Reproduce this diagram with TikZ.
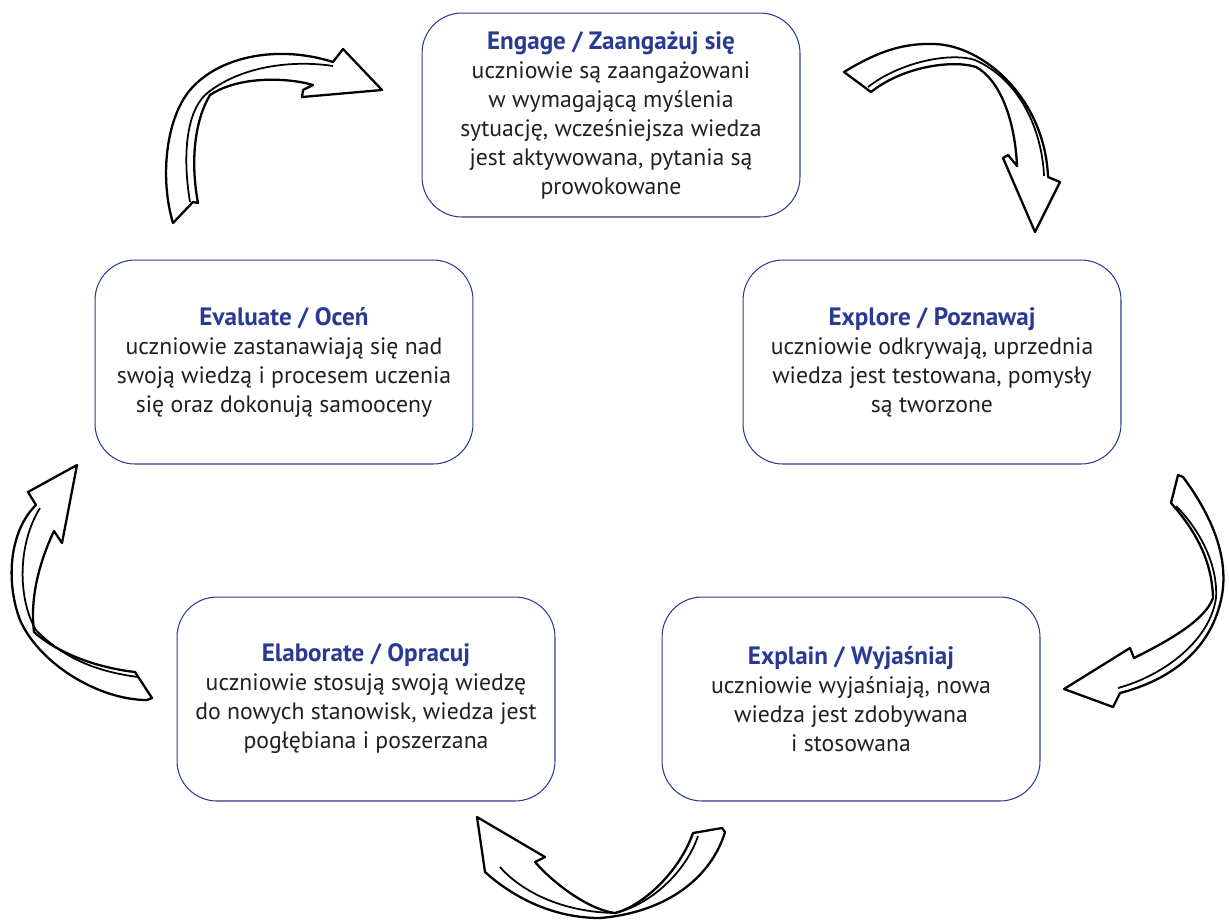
\documentclass[tikz,border=0pt]{standalone}
\usepackage{fontspec}
\setmainfont{PT Sans}
\definecolor{titleblue}{RGB}{40,58,145}
\definecolor{boxblue}{RGB}{45,60,145}
\definecolor{bodytext}{RGB}{35,31,32}
\begin{document}
\begin{tikzpicture}[x=0.02cm, y=-0.02cm,
    phase/.style={draw=boxblue, line width=0.6pt, rounded corners=0.8cm,
      minimum width=7.56cm, minimum height=4.08cm, align=center,
      text=bodytext, font=\fontsize{13.5}{16.5}\selectfont},
    ribbon/.style={draw=black, fill=white, line width=1.3pt, line join=round},
    ribbonedge/.style={draw=black, line width=1pt}]
    \useasboundingbox (0,0) rectangle (1229,921);
    \newcommand{\phasetitle}[1]{{\fontsize{14.3}{16.5}\selectfont\color{titleblue}\bfseries #1}}

    \node[phase] (engage) at (611,115) {\phasetitle{Engage / Zaangażuj się}\\
        uczniowie są zaangażowani\\ w wymagającą myślenia\\
        sytuację, wcześniejsza wiedza\\ jest aktywowana, pytania są\\ prowokowane};
    \node[phase] (explore) at (932,362) {\phasetitle{Explore / Poznawaj}\\
        uczniowie odkrywają, uprzednia\\ wiedza jest testowana, pomysły\\ są tworzone};
    \node[phase] (explain) at (851,699) {\phasetitle{Explain / Wyjaśniaj}\\
        uczniowie wyjaśniają, nowa\\ wiedza jest zdobywana\\ i stosowana};
    \node[phase] (elaborate) at (366,699) {\phasetitle{Elaborate / Opracuj}\\
        uczniowie stosują swoją wiedzę\\ do nowych stanowisk, wiedza jest\\ pogłębiana i poszerzana};
    \node[phase] (evaluate) at (284,362) {\phasetitle{Evaluate / Oceń}\\
        uczniowie zastanawiają się nad\\ swoją wiedzą i procesem uczenia\\ się oraz dokonują samooceny};

    \draw[ribbon] (844,72) .. controls (880,50) and (905,43) .. (935,44)
        .. controls (985,46) and (1045,100) .. (1048,177) -- (1060,182) -- (1035,232)
        -- (1003,158) -- (1008,155) -- (1017,166)
        .. controls (1015,120) and (1000,80) .. (976,67)
        .. controls (955,60) and (905,65) .. (871,92) -- cycle;
    \draw[ribbonedge] (868,87) .. controls (900,62) and (950,52) .. (975,60)
        .. controls (1020,80) and (1042,130) .. (1044,176);

    \draw[ribbon] (1171,503) -- (1178,475) -- (1183,477)
        .. controls (1215,520) and (1228,560) .. (1222,595)
        .. controls (1212,650) and (1170,680) .. (1120,693) -- (1113,707) -- (1064,689)
        -- (1130,648) -- (1134,658)
        .. controls (1170,640) and (1205,620) .. (1213,598)
        .. controls (1212,560) and (1195,530) .. (1171,503) -- cycle;
    \draw[ribbonedge] (1176,506) .. controls (1200,530) and (1218,565) .. (1216,598)
        .. controls (1210,640) and (1165,675) .. (1118,688);

    \draw[ribbon] (693,833) -- (722,828) -- (725,832)
        .. controls (712,875) and (670,912) .. (600,918)
        .. controls (545,918) and (505,890) .. (485,872) -- (477,817)
        -- (545,857) -- (535,862)
        .. controls (555,885) and (590,910) .. (615,913)
        .. controls (645,905) and (680,870) .. (693,833) -- cycle;
    \draw[ribbonedge] (698,836) .. controls (686,872) and (650,905) .. (615,913)
        .. controls (560,912) and (520,890) .. (500,867);

    \draw[ribbon] (135,672) -- (152,698) -- (147,700)
        .. controls (100,700) and (40,665) .. (20,620)
        .. controls (5,580) and (10,530) .. (36,505) -- (28,492) -- (77,465)
        -- (62,543) -- (54,531)
        .. controls (38,565) and (30,600) .. (34,632)
        .. controls (60,655) and (100,668) .. (135,672) -- cycle;
    \draw[ribbonedge] (40,508) .. controls (17,545) and (18,600) .. (36,630)
        .. controls (65,660) and (100,672) .. (138,677);

    \draw[ribbon] (173,223) -- (193,202) -- (198,203)
        .. controls (190,160) and (195,120) .. (210,95)
        .. controls (240,75) and (290,78) .. (313,85) -- (303,90) -- (302,97)
        -- (382,90) -- (343,49) -- (333,62)
        .. controls (280,45) and (220,55) .. (190,90)
        .. controls (165,120) and (160,180) .. (173,223) -- cycle;
    \draw[ribbonedge] (190,202) .. controls (183,160) and (185,115) .. (205,95)
        .. controls (240,65) and (295,60) .. (333,66);
\end{tikzpicture}
\end{document}
